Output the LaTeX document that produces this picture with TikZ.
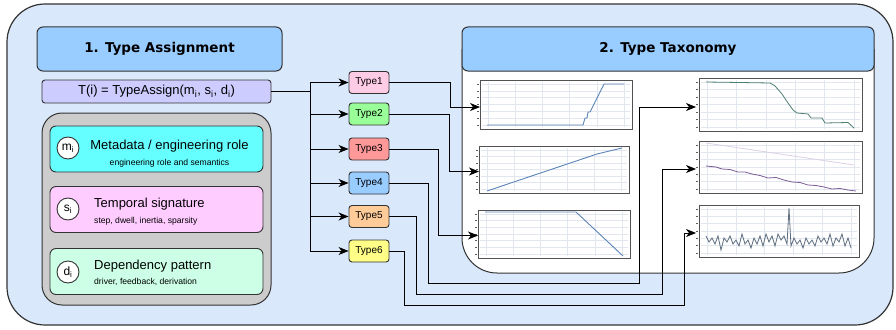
\documentclass[tikz,border=0pt]{standalone}
\usepackage{fontspec}
\setmainfont{Liberation Sans}
\newfontfamily\titlefont{DejaVu Sans}
\usetikzlibrary{arrows.meta}
\definecolor{bgblue}{HTML}{DAE8FC}
\definecolor{titleblue}{HTML}{99CCFF}
\definecolor{formc}{HTML}{CCCCFF}
\definecolor{grayc}{HTML}{CCCCCC}
\definecolor{cyanc}{HTML}{66FFFF}
\definecolor{pinkc}{HTML}{FFCCFF}
\definecolor{mintc}{HTML}{CCFFE6}
\definecolor{ty1}{HTML}{FFCCE6}
\definecolor{ty2}{HTML}{99FF99}
\definecolor{ty3}{HTML}{FF9999}
\definecolor{ty4}{HTML}{99CCFF}
\definecolor{ty5}{HTML}{FFCC99}
\definecolor{ty6}{HTML}{FFFF88}
\definecolor{edgec}{HTML}{333333}
\definecolor{gridc}{HTML}{E2E7EF}
\definecolor{lineblue}{HTML}{5B84B8}
\definecolor{linegreen}{HTML}{4F7F72}
\definecolor{linepurp}{HTML}{7A5C94}
\definecolor{linefaint}{HTML}{DCD0E6}
\definecolor{linegray}{HTML}{5F6E80}
\tikzset{
  outerbox/.style={draw=edgec, fill=bgblue, line width=1.2pt, rounded corners=38pt},
  titlebox/.style={draw=edgec, fill=titleblue, line width=1pt, rounded corners=6pt,
    font=\titlefont\bfseries\fontsize{13.5}{16}\selectfont},
  formbox/.style={draw=edgec, fill=formc, line width=0.9pt, rounded corners=3pt,
    font=\fontsize{13}{15}\selectfont},
  featbox/.style={draw=edgec, line width=0.9pt, rounded corners=6pt, minimum width=213pt, minimum height=46pt},
  circ/.style={circle, draw=edgec, fill=white, line width=0.9pt, minimum size=22pt, inner sep=0pt,
    font=\fontsize{12}{14}\selectfont},
  ftitle/.style={font=\fontsize{13}{15}\selectfont, inner sep=0pt},
  fsub/.style={font=\fontsize{8.6}{10}\selectfont, inner sep=0pt},
  typebox/.style={draw=edgec, line width=0.9pt, rounded corners=3pt, minimum width=40pt,
    minimum height=22pt, inner sep=0pt, font=\fontsize{10}{12}\selectfont},
  chart/.style={draw=edgec!85, fill=white, line width=1.4pt, inner sep=0pt, anchor=north west},
  gline/.style={draw=gridc, line width=0.6pt},
  tline/.style={draw=edgec!80, line width=0.5pt},
  conn/.style={draw=black, line width=0.9pt},
  arr/.style={conn, -{Stealth[length=10pt,width=8pt,inset=3pt]}},
}
\newcommand\mygrid[4]{%
  \foreach \k in {0,...,5}{\draw[gline] ({#1+8+\k*(#3-#1-16)/5},{#2+2}) -- ({#1+8+\k*(#3-#1-16)/5},{#4-2});}
  \foreach \k in {0,...,6}{\draw[gline] ({#1+2},{#2+4+\k*(#4-#2-8)/6}) -- ({#3-2},{#2+4+\k*(#4-#2-8)/6});}
  \foreach \k in {0,...,6}{\draw[tline] ({#1-3},{#2+4+\k*(#4-#2-8)/6}) -- ({#1-0.7},{#2+4+\k*(#4-#2-8)/6});}
}
\begin{document}
\begin{tikzpicture}[x=1pt,y=-1pt]
\useasboundingbox (0,0) rectangle (896,329);
% outer container
\node[outerbox, minimum width=886pt, minimum height=321pt] (outer) at (450,164.5) {};

% left part
\node[titlebox, minimum width=245pt, minimum height=44pt] (ta) at (159.5,49) {1. Type Assignment};
\node[formbox, minimum width=229pt, minimum height=23pt] (f) at (156.5,91.5)
  {T(i) = TypeAssign(m\textsubscript{i}, s\textsubscript{i}, d\textsubscript{i})};
\node[draw=edgec, fill=grayc, line width=1pt, rounded corners=20pt, minimum width=229pt, minimum height=192pt] (g) at (156.5,209) {};

\node[featbox, fill=cyanc] (fm) at (156.5,149) {};
\node[circ] (cm) at (68,148) {m\textsubscript{i}};
\node[ftitle, anchor=base] (tm) at (169.5,149.5) {Metadata / engineering role};
\node[fsub, anchor=base] (sm) at (169.5,165) {engineering role and semantics};

\node[featbox, fill=pinkc] (fs) at (156.5,209.5) {};
\node[circ] (cs) at (68,209) {s\textsubscript{i}};
\node[ftitle, anchor=base west] (ts) at (94,207) {Temporal signature};
\node[fsub, anchor=base west] (ss) at (94,223) {step, dwell, inertia, sparsity};

\node[featbox, fill=mintc] (fd) at (156.5,271.5) {};
\node[circ] (cd) at (68,272) {d\textsubscript{i}};
\node[ftitle, anchor=base west] (td) at (94,269) {Dependency pattern};
\node[fsub, anchor=base west] (sd) at (94,284.5) {driver, feedback, derivation};

% right panel
\path[fill=white, draw=edgec, line width=1pt, rounded corners=35pt]
  (462,49) -- (462,273) -- (874,273) -- (874,49);
\node[titlebox, minimum width=412pt, minimum height=44pt] (tax) at (668,49) {2. Type Taxonomy};

% charts
\node[chart, minimum width=152pt, minimum height=49pt] (c1) at (480,80) {};
\node[chart, minimum width=150pt, minimum height=47pt] (c2) at (479,146) {};
\node[chart, minimum width=152pt, minimum height=48pt] (c3) at (478,210) {};
\node[chart, minimum width=163pt, minimum height=53pt] (c4) at (699,78) {};
\node[chart, minimum width=163pt, minimum height=52pt] (c5) at (699,141) {};
\node[chart, minimum width=160pt, minimum height=52pt] (c6) at (699,205) {};
\mygrid{480}{80}{632}{129}
\mygrid{479}{146}{629}{193}
\mygrid{478}{210}{630}{258}
\mygrid{699}{78}{862}{131}
\mygrid{699}{141}{862}{193}
\mygrid{699}{205}{859}{257}
\draw[lineblue, line width=0.9pt] (487,125) -- (583,125) -- (585,118) -- (587,118) -- (588,112) -- (590,112) -- (604,84) -- (624,84);
\draw[lineblue, line width=0.9pt] (487,191) -- (597,154) -- (622,148);
\draw[lineblue, line width=0.9pt] (485,212) -- (576,212) -- (623,256);
\draw[linegreen, line width=0.8pt] (706,82) -- (740,82.5) -- (770,83) -- (775,86) -- (782,94) -- (788,103) -- (793,110) -- (797,113) -- (808,114) -- (811,118) -- (822,118) -- (825,123) -- (848,122.5) -- (854,128);
\draw[linefaint, line width=0.8pt] (706,143) -- (760,151) -- (800,157) -- (854,165);
\draw[linepurp, line width=0.8pt] (706,166) -- (716,167) -- (722,169) -- (730,169.5) -- (738,172) -- (745,172) -- (752,174) -- (760,175.5) -- (768,178) -- (776,177.5) -- (784,180) -- (792,182) -- (800,182.5) -- (808,185) -- (816,185.5) -- (824,187) -- (832,189) -- (840,188.5) -- (848,190) -- (856,191);
\draw[linegray, line width=0.8pt] (706,236) -- (709,242) -- (712,238) -- (715,244) -- (718,236) -- (721,250) -- (724,238) -- (727,242) -- (730,236) -- (733,244) -- (736,240) -- (739,246) -- (742,234) -- (745,244) -- (748,240) -- (751,248) -- (754,238) -- (757,244) -- (760,236) -- (763,246) -- (766,234) -- (769,242) -- (772,236) -- (775,246) -- (778,234) -- (781,240) -- (784,236) -- (787,244) -- (789,208) -- (791,246) -- (794,238) -- (797,244) -- (800,240) -- (803,248) -- (806,238) -- (809,244) -- (812,240) -- (815,246) -- (818,236) -- (821,242) -- (824,238) -- (827,244) -- (830,234) -- (833,246) -- (836,238) -- (839,242) -- (842,234) -- (845,246) -- (848,238) -- (851,248);

% type boxes
\node[typebox, fill=ty1] (t1) at (369,82.5) {Type1};
\node[typebox, fill=ty2] (t2) at (369,114) {Type2};
\node[typebox, fill=ty3] (t3) at (369,149) {Type3};
\node[typebox, fill=ty4] (t4) at (369,183) {Type4};
\node[typebox, fill=ty5] (t5) at (369,216.5) {Type5};
\node[typebox, fill=ty6] (t6) at (369,251) {Type6};

% fan-out
\coordinate (j) at (310,91.5);
\draw[conn, line width=1.6pt] (f.east) -- (j);
\draw[conn] (j |- t1.west) -- (j |- t6.west);
\foreach \t in {t1,t2,t3,t4,t5,t6}{\draw[arr] (j |- \t.west) -- (\t.west);}

% routes to charts
\coordinate (b1) at (450,107);
\coordinate (b2) at (449,171.5);
\coordinate (b3) at (438,235.5);
\coordinate (b4a) at (428,283);
\coordinate (b4b) at (639,107);
\coordinate (b5a) at (416,294);
\coordinate (b5b) at (662,169);
\coordinate (b6a) at (404,305.5);
\coordinate (b6b) at (684,233);
\draw[arr] (t1.east) -| (b1) -- (b1 -| c1.west);
\draw[arr] (t2.east) -| (b2) -- (b2 -| c2.west);
\draw[arr] (t3.east) -| (b3) -- (b3 -| c3.west);
\draw[arr] (t4.east) -| (b4a) -| (b4b) -- ([xshift=-3pt]b4b -| c4.west);
\draw[arr] (t5.east) -| (b5a) -| (b5b) -- ([xshift=-3pt]b5b -| c5.west);
\draw[arr] (t6.east) -| (b6a) -| (b6b) -- ([xshift=-3pt]b6b -| c6.west);
\end{tikzpicture}
\end{document}
